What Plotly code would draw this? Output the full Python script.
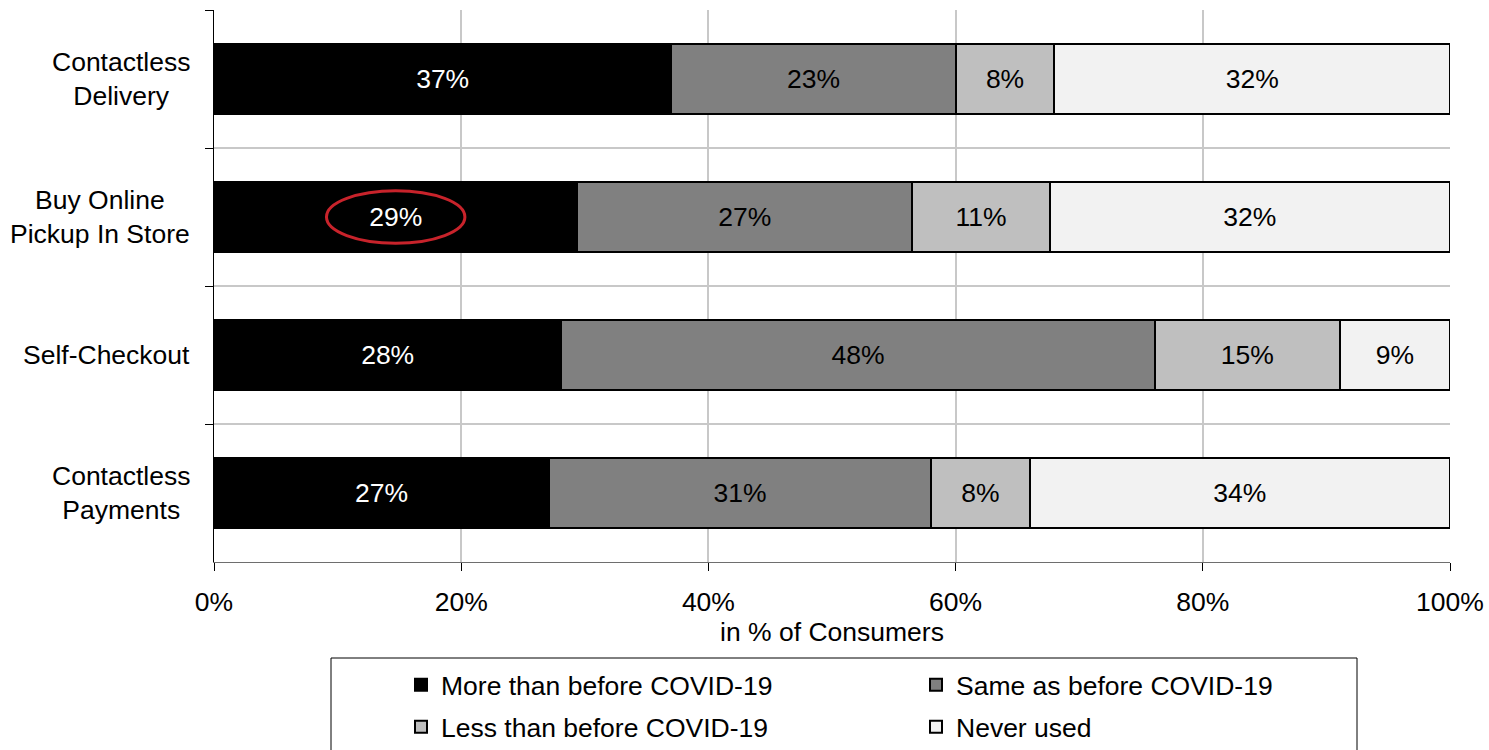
import plotly.graph_objects as go

categories = ["Contactless<br>Delivery", "Buy Online<br>Pickup In Store", "Self-Checkout", "Contactless<br>Payments"]
series_names = ["More than before COVID-19", "Same as before COVID-19", "Less than before COVID-19", "Never used"]
more_than = [37.0, 29.4, 28.1, 27.1]
same_as = [23.0, 27.1, 48.0, 30.9]
less_than = [8.0, 11.1, 15.0, 8.0]
never_used = [32.0, 32.4, 8.9, 34.0]
x_ticks = [0, 20, 40, 60, 80, 100]
x_tick_labels = ["0%", "20%", "40%", "60%", "80%", "100%"]

values = [more_than, same_as, less_than, never_used]
fills = ["#000000", "#808080", "#BFBFBF", "#F2F2F2"]
text_colors = ["#FFFFFF", "#000000", "#000000", "#000000"]
legend_ids = ["legend", "legend2", "legend3", "legend4"]

FONT = "Liberation Sans, Arial, sans-serif"
FS = 26.5

fig = go.Figure()
for name, vals, fill, tc, lg in zip(series_names, values, fills, text_colors, legend_ids):
    fig.add_trace(go.Bar(
        y=categories, x=vals, name=name, orientation="h",
        marker=dict(color=fill, line=dict(color="#000000", width=2)),
        text=vals, texttemplate="%{x:.0f}%", textposition="inside",
        insidetextanchor="middle", constraintext="none",
        textfont=dict(color=tc, size=FS, family=FONT),
        legend=lg, hoverinfo="skip",
    ))

W, H = 1489, 750
L, R, T, B = 214, 39, 10, 188
pw, ph = W - L - R, H - T - B

def px_x(px):
    return (px - L) / pw

def px_y(py):
    return 1 - (py - T) / ph

legend_common = dict(font=dict(size=FS, family=FONT, color="#000000"),
                     bgcolor="rgba(0,0,0,0)", borderwidth=0,
                     xanchor="left", yanchor="middle", orientation="h",
                     itemclick=False, itemdoubleclick=False)
pos = [(401, 685), (916, 685), (401, 727), (916, 727)]
layout_legends = {}
for lg, (lx, ly) in zip(legend_ids, pos):
    layout_legends[lg] = dict(legend_common, x=px_x(lx), y=px_y(ly))

fig.update_layout(
    width=W, height=H,
    margin=dict(l=L, r=R, t=T, b=B, pad=0, autoexpand=False),
    barmode="stack", bargap=0.49,
    plot_bgcolor="#FFFFFF", paper_bgcolor="#FFFFFF",
    font=dict(family=FONT, size=FS, color="#000000"),
    showlegend=True,
    **layout_legends,
    xaxis=dict(range=[0, 100], tickmode="array", tickvals=x_ticks, ticktext=x_tick_labels,
               showgrid=True, gridcolor="#C8C8C8", gridwidth=2,
               showline=True, linecolor="#6E6E6E", linewidth=1,
               ticks="outside", ticklen=8, tickcolor="#000000", tickwidth=1,
               ticklabelstandoff=8,
               tickfont=dict(size=FS, family=FONT, color="#000000"),
               title=dict(text="in % of Consumers", font=dict(size=FS, family=FONT, color="#000000"), standoff=6),
               zeroline=False, fixedrange=True, automargin=False),
    yaxis=dict(autorange="reversed", type="category", tickson="boundaries",
               showgrid=True, gridcolor="#C8C8C8", gridwidth=2,
               showline=True, linecolor="#000000", linewidth=1,
               ticks="outside", ticklen=8, tickcolor="#000000",
               showticklabels=False, fixedrange=True, automargin=False),
)

# category labels: centred lines, right-aligned block
for cat in categories:
    fig.add_annotation(x=0, xref="paper", y=cat, yref="y", text=cat,
                       showarrow=False, xanchor="right", align="center",
                       xshift=-22, font=dict(size=FS, family=FONT, color="#000000"))

# legend frame
fig.add_shape(type="rect", xref="paper", yref="paper",
              x0=px_x(331), x1=px_x(1357), y0=px_y(658), y1=px_y(760),
              line=dict(color="#000000", width=1), fillcolor="rgba(0,0,0,0)")

# highlight ellipse around the BOPIS "more than" value
hl = categories.index("Buy Online<br>Pickup In Store")
cx = more_than[hl] / 2
fig.add_shape(type="circle", xref="x", yref="y",
              x0=cx - 5.6, x1=cx + 5.6, y0=hl - 0.19, y1=hl + 0.19,
              line=dict(color="#C8232B", width=3))

fig.write_html("out.html")
